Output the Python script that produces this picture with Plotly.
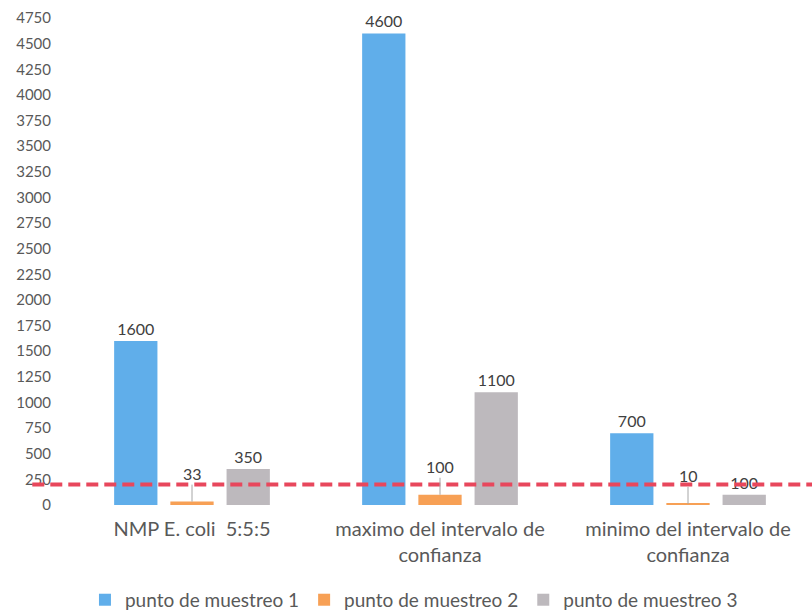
import plotly.graph_objects as go

categories = ["NMP E. coli  5:5:5", "maximo del intervalo de<br>confianza", "minimo del intervalo de<br>confianza"]
series_names = ["punto de muestreo 1", "punto de muestreo 2", "punto de muestreo 3"]
punto1 = [1600, 4600, 700]
punto2 = [33, 100, 10]
punto3 = [350, 1100, 100]
limite = 200
y_ticks = list(range(0, 5000, 250))

colors = ["#60AEEA", "#F7A055", "#BDB9BD"]
font_family = "Lato, 'Open Sans', sans-serif"
text_color = "#595959"
label_color = "#404040"

fig = go.Figure()
for name, vals, col, show_text in [
    (series_names[0], punto1, colors[0], True),
    (series_names[1], punto2, colors[1], False),
    (series_names[2], punto3, colors[2], True),
]:
    fig.add_trace(go.Bar(
        x=categories, y=vals, name=name,
        marker=dict(color=col, line=dict(width=0)),
        text=[str(v) for v in vals] if show_text else None,
        textposition="outside" if show_text else "none",
        textfont=dict(size=16, color=label_color, family=font_family),
        cliponaxis=False,
    ))

# small values: labels lifted above the bar with a thin leader line
for cat, v in zip(categories, punto2):
    fig.add_annotation(
        x=cat, y=v, text=str(v), showarrow=True, arrowhead=0,
        arrowwidth=1, arrowcolor="#A6A6A6", ax=0, ay=-28,
        font=dict(size=16, color=label_color, family=font_family),
    )

# reference limit line
fig.add_shape(
    type="line", xref="paper", yref="y", x0=-0.048, x1=1.0, y0=limite, y1=limite,
    line=dict(color="#E8475C", width=4, dash="12px,6px"), layer="above",
)

fig.update_layout(
    width=812, height=614,
    margin=dict(l=68, r=0, t=18, b=109, autoexpand=False),
    paper_bgcolor="white", plot_bgcolor="white",
    barmode="group", bargap=0.32, bargroupgap=0.23,
    font=dict(family=font_family, color=text_color),
    showlegend=True,
    legend=dict(
        orientation="h", x=0.465, xanchor="center",
        yref="container", y=0.023, yanchor="middle",
        font=dict(size=19, color=text_color, family=font_family),
        traceorder="normal", itemwidth=30,
    ),
    xaxis=dict(
        showline=False, showgrid=False, ticks="", ticklabelstandoff=10,
        tickfont=dict(size=20, color=text_color, family=font_family),
    ),
    yaxis=dict(
        range=[0, 4750], tickvals=y_ticks, showgrid=False, zeroline=False,
        showline=False, ticklabelstandoff=16,
        tickfont=dict(size=15, color=text_color, family=font_family),
    ),
)

fig.write_html("out.html")
